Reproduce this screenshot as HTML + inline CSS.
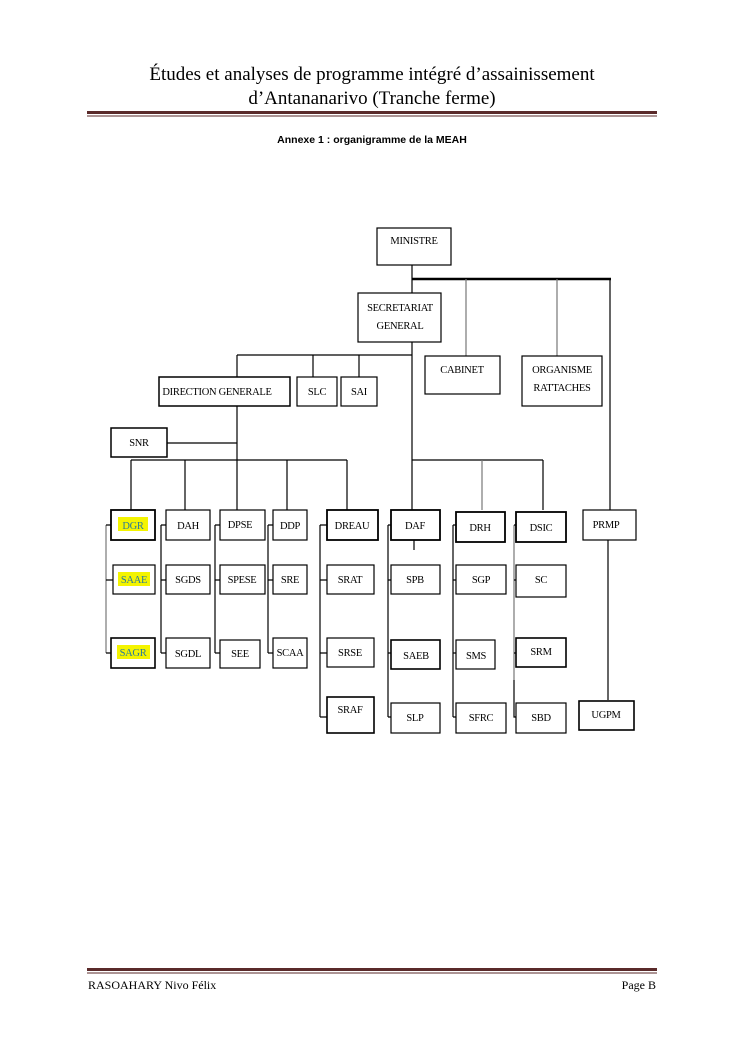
<!DOCTYPE html>
<html><head><meta charset="utf-8"><style>
html,body{margin:0;padding:0;background:#fff;width:745px;height:1053px;overflow:hidden}
svg{display:block}
.b{fill:#fff;stroke:#000;stroke-width:1.2}
.t{font-family:"Liberation Serif",serif;font-size:10.5px;fill:#000;text-anchor:middle;letter-spacing:-0.3px}
.l{stroke:#000;stroke-width:1.2;fill:none}
.g{stroke:#777;stroke-width:1.2;fill:none}
</style></head><body>
<svg width="745" height="1053" xmlns="http://www.w3.org/2000/svg">
<text x="372" y="80" font-family="Liberation Serif,serif" font-size="19" text-anchor="middle">Études et analyses de programme intégré d’assainissement</text>
<text x="372" y="104" font-family="Liberation Serif,serif" font-size="19" text-anchor="middle">d’Antananarivo (Tranche ferme)</text>
<rect x="87" y="111" width="570" height="3" fill="#5a2a2a"/>
<rect x="87" y="115.5" width="570" height="1" fill="#5a2a2a"/>
<text x="372" y="143" font-family="Liberation Sans,sans-serif" font-size="10.5" font-weight="bold" text-anchor="middle">Annexe 1 : organigramme de la MEAH</text>

<path class="l" d="M412 265V460M412 279H610V510"/>
<path style="stroke:#000;stroke-width:2.5" d="M412 279H611"/>
<path class="g" d="M466 279V356M557 279V356"/>
<path class="l" d="M237 355H412M313 355V377M359 355V377M237 355V377M237 406V460M167 443H237"/>
<path class="l" d="M131 460H347M131 460V510M185 460V510M237 460V510M287 460V510M347 460V510"/>
<path class="l" d="M412 460H543M412 460V510M543 460V510"/>
<path class="g" d="M482 460V510"/>
<path class="g" d="M106 525V653"/>
<path class="l" d="M106 525H111M106 580H113M106 653H111"/>
<path class="l" d="M161 525V653M161 525H166M161 580H166M161 653H166"/>
<path class="l" d="M215 525V653M215 525H220M215 580H220M215 653H220"/>
<path class="l" d="M268 525V653M268 525H273M268 580H273M268 653H273"/>
<path class="l" d="M320 525V717M320 525H327M320 580H327M320 653H327M320 717H327"/>
<path class="l" d="M388 525V717M388 525H391M388 580H391M388 653H391M388 717H391M414 540V550"/>
<path class="l" d="M453 525V717M453 525H456M453 580H456M453 653H456M453 717H456"/>
<path class="g" d="M514 525V680"/>
<path class="l" d="M514 525H516M514 580H516M514 653H516M514 680V717H516"/>
<path class="l" d="M608 540V700"/>

<rect class="b" x="377" y="228" width="74" height="37"/><text class="t" x="414" y="244">MINISTRE</text>
<rect class="b" x="358" y="293" width="83" height="49"/><text class="t" x="400" y="311">SECRETARIAT</text><text class="t" x="400" y="329">GENERAL</text>
<rect class="b" x="425" y="356" width="75" height="38"/><text class="t" x="462" y="373">CABINET</text>
<rect class="b" x="522" y="356" width="80" height="50"/><text class="t" x="562" y="373">ORGANISME</text><text class="t" x="562" y="391">RATTACHES</text>
<rect class="b" x="159" y="377" width="131" height="29" style="stroke-width:1.5"/><text class="t" x="217" y="395">DIRECTION GENERALE</text>
<rect class="b" x="297" y="377" width="40" height="29"/><text class="t" x="317" y="395">SLC</text>
<rect class="b" x="341" y="377" width="36" height="29"/><text class="t" x="359" y="395">SAI</text>
<rect class="b" x="111" y="428" width="56" height="29" style="stroke-width:1.5"/><text class="t" x="139" y="446">SNR</text>

<rect class="b" x="111" y="510" width="44" height="30" style="stroke-width:1.8"/>
<rect class="b" x="166" y="510" width="44" height="30"/>
<rect class="b" x="220" y="510" width="45" height="30"/>
<rect class="b" x="273" y="510" width="34" height="30"/>
<rect class="b" x="327" y="510" width="51" height="30" style="stroke-width:1.8"/>
<rect class="b" x="391" y="510" width="49" height="30" style="stroke-width:1.8"/>
<rect class="b" x="456" y="512" width="49" height="30" style="stroke-width:1.8"/>
<rect class="b" x="516" y="512" width="50" height="30" style="stroke-width:1.8"/>
<rect class="b" x="583" y="510" width="53" height="30"/>
<rect x="118" y="517" width="30" height="14" fill="#f4f400"/>
<text class="t" x="133" y="529" style="fill:#2a7a9a">DGR</text>
<text class="t" x="188" y="529">DAH</text>
<text class="t" x="240" y="528">DPSE</text>
<text class="t" x="290" y="529">DDP</text>
<text class="t" x="352" y="529">DREAU</text>
<text class="t" x="415" y="529">DAF</text>
<text class="t" x="480" y="531">DRH</text>
<text class="t" x="541" y="531">DSIC</text>
<text class="t" x="606" y="528">PRMP</text>

<rect class="b" x="113" y="565" width="42" height="29"/>
<rect x="118" y="572" width="32" height="14" fill="#f4f400"/>
<text class="t" x="134" y="583" style="fill:#2a7a9a">SAAE</text>
<rect class="b" x="166" y="565" width="44" height="29"/><text class="t" x="188" y="583">SGDS</text>
<rect class="b" x="220" y="565" width="45" height="29"/><text class="t" x="242" y="583">SPESE</text>
<rect class="b" x="273" y="565" width="34" height="29"/><text class="t" x="290" y="583">SRE</text>
<rect class="b" x="327" y="565" width="47" height="29"/><text class="t" x="350" y="583">SRAT</text>
<rect class="b" x="391" y="565" width="49" height="29"/><text class="t" x="415" y="583">SPB</text>
<rect class="b" x="456" y="565" width="50" height="29"/><text class="t" x="481" y="583">SGP</text>
<rect class="b" x="516" y="565" width="50" height="32"/><text class="t" x="541" y="583">SC</text>

<rect class="b" x="111" y="638" width="44" height="30" style="stroke-width:1.6"/>
<rect x="117" y="645" width="33" height="14" fill="#f4f400"/>
<text class="t" x="133" y="656" style="fill:#2a7a9a">SAGR</text>
<rect class="b" x="166" y="638" width="44" height="30"/><text class="t" x="188" y="657">SGDL</text>
<rect class="b" x="220" y="640" width="40" height="28"/><text class="t" x="240" y="657">SEE</text>
<rect class="b" x="273" y="638" width="34" height="30"/><text class="t" x="290" y="656">SCAA</text>
<rect class="b" x="327" y="638" width="47" height="29"/><text class="t" x="350" y="656">SRSE</text>
<rect class="b" x="391" y="640" width="49" height="29" style="stroke-width:1.6"/><text class="t" x="416" y="659">SAEB</text>
<rect class="b" x="456" y="640" width="39" height="29"/><text class="t" x="476" y="659">SMS</text>
<rect class="b" x="516" y="638" width="50" height="29" style="stroke-width:1.6"/><text class="t" x="541" y="655">SRM</text>

<rect class="b" x="327" y="697" width="47" height="36" style="stroke-width:1.6"/><text class="t" x="350" y="713">SRAF</text>
<rect class="b" x="391" y="703" width="49" height="30"/><text class="t" x="415" y="721">SLP</text>
<rect class="b" x="456" y="703" width="50" height="30"/><text class="t" x="481" y="721">SFRC</text>
<rect class="b" x="516" y="703" width="50" height="30"/><text class="t" x="541" y="721">SBD</text>
<rect class="b" x="579" y="701" width="55" height="29" style="stroke-width:1.6"/><text class="t" x="606" y="718">UGPM</text>

<rect x="87" y="968" width="570" height="3" fill="#5a2a2a"/>
<rect x="87" y="972.5" width="570" height="1" fill="#5a2a2a"/>
<text x="88" y="989" font-family="Liberation Serif,serif" font-size="12">RASOAHARY Nivo Félix</text>
<text x="656" y="989" font-family="Liberation Serif,serif" font-size="12" text-anchor="end">Page B</text>
</svg>
</body></html>
